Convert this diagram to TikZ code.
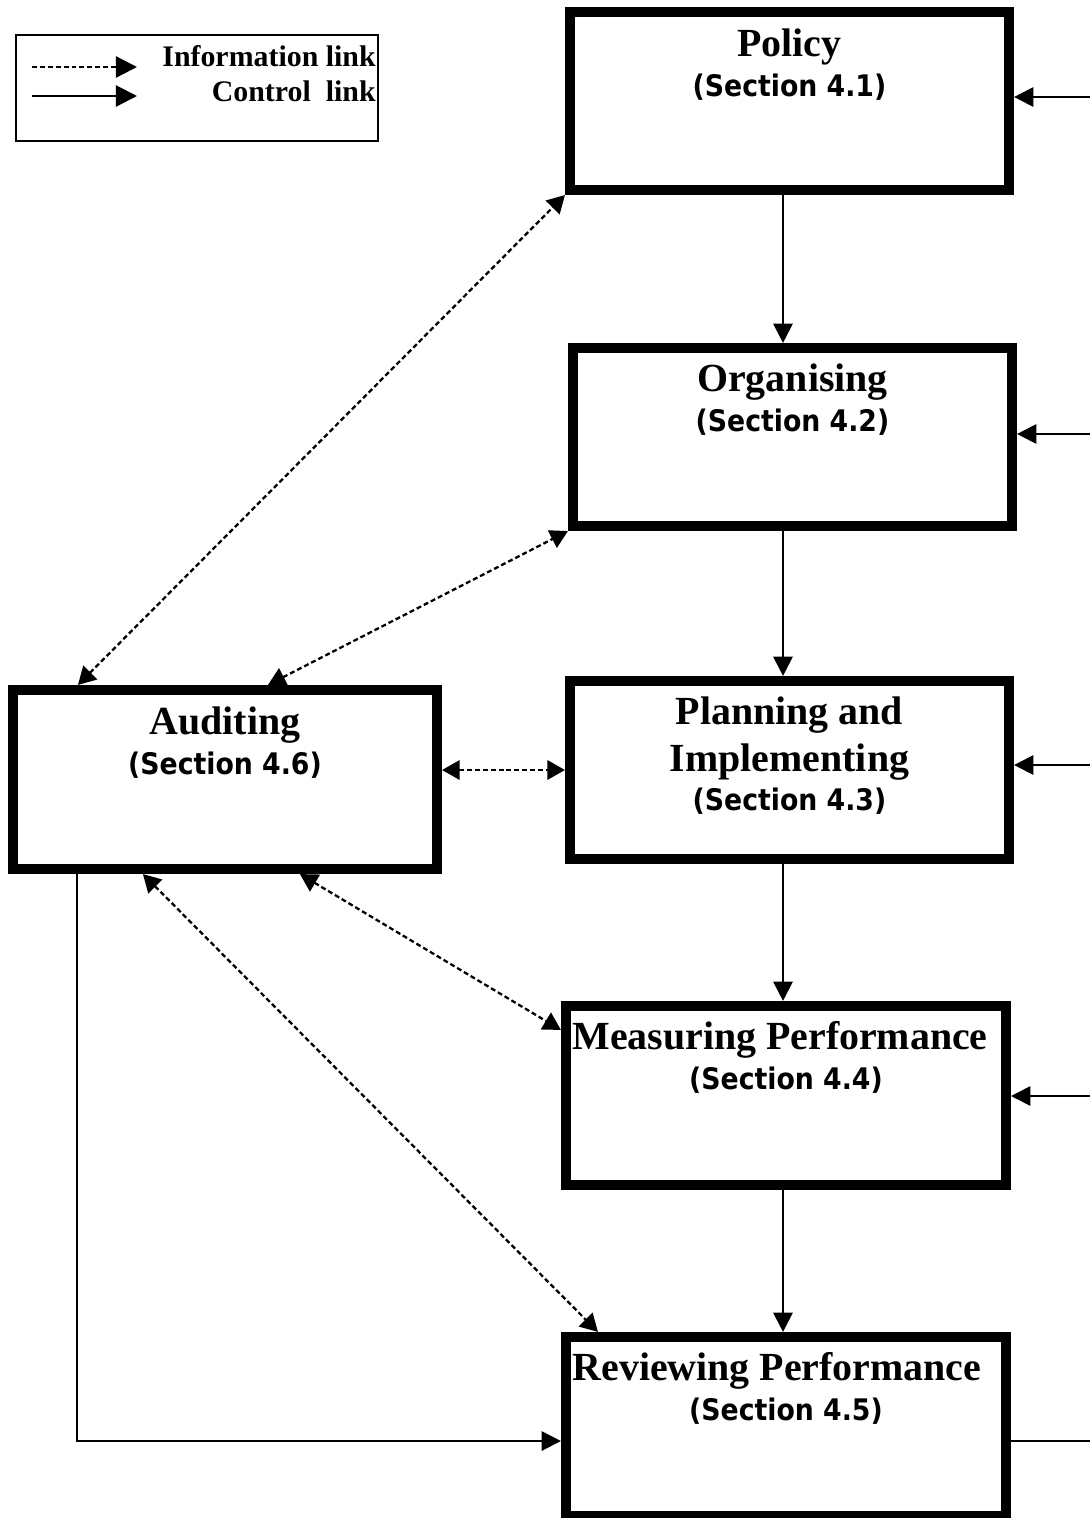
\documentclass[tikz,border=0pt]{standalone}
\usepackage{fontspec}
\setmainfont{Liberation Serif}
\newfontfamily\secfont{DejaVu Sans Condensed}
\usetikzlibrary{arrows.meta,calc}

\tikzset{
  blk/.style={draw, line width=5.8pt, minimum width=8.78cm, minimum height=3.56cm, inner sep=0pt},
  ttl/.style={anchor=base, inner sep=0pt, font=\bfseries\fontsize{22.7}{27}\selectfont},
  sec/.style={anchor=base, inner sep=0pt, font=\secfont\bfseries\fontsize{16.9}{20}\selectfont},
  lgd/.style={anchor=base east, inner sep=0pt, font=\bfseries\fontsize{17}{20}\selectfont},
  ctrl/.style={line width=1.2pt, -{Triangle[length=11pt,width=11pt]}},
  dsh/.style={line width=1.3pt, dash pattern=on 2.8pt off 1.7pt},
  info/.style={dsh, {Triangle[length=10pt,width=11pt]}-{Triangle[length=10pt,width=11pt]}}
}

\begin{document}
\begin{tikzpicture}[x=0.02cm, y=-0.02cm]
	
	\useasboundingbox (0,0) rectangle (1090,1518);
	
	% legenda
	\node[draw, line width=0.8pt, minimum width=7.24cm, minimum height=2.12cm, inner sep=0pt] (legend) at (197,88) {};
	\coordinate (li-a) at (32,67);
	\coordinate (li-b) at (137,67);
	\coordinate (lc-a) at (32,96);
	\coordinate (lc-b) at (137,96);
	\draw[dsh, -{Triangle[length=12pt,width=12pt]}] (li-a) -- (li-b);
	\draw[line width=1.2pt, -{Triangle[length=12pt,width=12pt]}] (lc-a) -- (lc-b);
	\node[lgd] (lgd-info) at (376,66) {Information link};
	\node[lgd] (lgd-ctrl) at (376,101) {Control\ \ link};
	
	% caixas
	\node[blk] (policy) at (789.5,101) {};
	\node[blk] (organising) at (792.5,437) {};
	\node[blk] (planning) at (789.5,770) {};
	\node[blk, minimum width=8.8cm, minimum height=3.58cm] (measuring) at (786,1095.5) {};
	\node[blk, minimum width=8.8cm, minimum height=3.58cm] (reviewing) at (786,1426.5) {};
	\node[blk, minimum width=8.48cm, minimum height=3.58cm] (auditing) at (225,779.5) {};
	
	% textos
	\node[ttl] (policy-a) at ($(policy.north)+(0,50)$) {Policy};
	\node[sec] (policy-b) at ($(policy.north)+(0,90)$) {(Section 4.1)};
	\node[ttl] (organising-a) at ($(organising.north)+(0,49)$) {Organising};
	\node[sec] (organising-b) at ($(organising.north)+(0,89)$) {(Section 4.2)};
	\node[ttl] (planning-a) at ($(planning.north)+(0,49)$) {Planning and};
	\node[ttl] (planning-b) at ($(planning.north)+(0,96)$) {Implementing};
	\node[sec] (planning-c) at ($(planning.north)+(0,135)$) {(Section 4.3)};
	\node[ttl] (measuring-a) at ($(measuring.north)+(-6,49)$) {Measuring Performance};
	\node[sec] (measuring-b) at ($(measuring.north)+(0,89)$) {(Section 4.4)};
	\node[ttl] (reviewing-a) at ($(reviewing.north)+(-9,49)$) {Reviewing Performance};
	\node[sec] (reviewing-b) at ($(reviewing.north)+(0,89)$) {(Section 4.5)};
	\node[ttl] (auditing-a) at ($(auditing.north)+(0,50)$) {Auditing};
	\node[sec] (auditing-b) at ($(auditing.north)+(0,90)$) {(Section 4.6)};
	
	% control links
	\coordinate (spine) at (783,0);
	\draw[ctrl] (policy.south -| spine) -- (organising.north -| spine);
	\draw[ctrl] (organising.south -| spine) -- (planning.north -| spine);
	\draw[ctrl] (planning.south -| spine) -- (measuring.north -| spine);
	\draw[ctrl] (measuring.south -| spine) -- (reviewing.north -| spine);
	
	\coordinate (in-pol) at (1090,97);
	\coordinate (in-org) at (1090,434);
	\coordinate (in-pla) at (1090,765);
	\coordinate (in-mea) at (1090,1096);
	\coordinate (out-rev) at (1090,1441);
	\draw[ctrl] (in-pol) -- (in-pol -| policy.east);
	\draw[ctrl] (in-org) -- (in-org -| organising.east);
	\draw[ctrl] (in-pla) -- (in-pla -| planning.east);
	\draw[ctrl] (in-mea) -- (in-mea -| measuring.east);
	\draw[line width=1.2pt] (out-rev -| reviewing.east) -- (out-rev);
	
	\coordinate (aud-bend) at (77,1441);
	\draw[ctrl] (aud-bend |- auditing.south) -- (aud-bend) -- (aud-bend -| reviewing.west);
	
	% information links
	\draw[info] ($(auditing.north west)+(70,0)$) -- (policy.south west);
	\draw[info] ($(auditing.north west)+(260,0)$) -- (organising.south west);
	\draw[info] (auditing.east |- planning.west) -- (planning.west);
	\draw[info] ($(auditing.south west)+(292,0)$) -- ($(measuring.north west)+(0,29)$);
	\draw[info] ($(auditing.south west)+(135,0)$) -- ($(reviewing.north west)+(37,0)$);
	
\end{tikzpicture}
\end{document}
